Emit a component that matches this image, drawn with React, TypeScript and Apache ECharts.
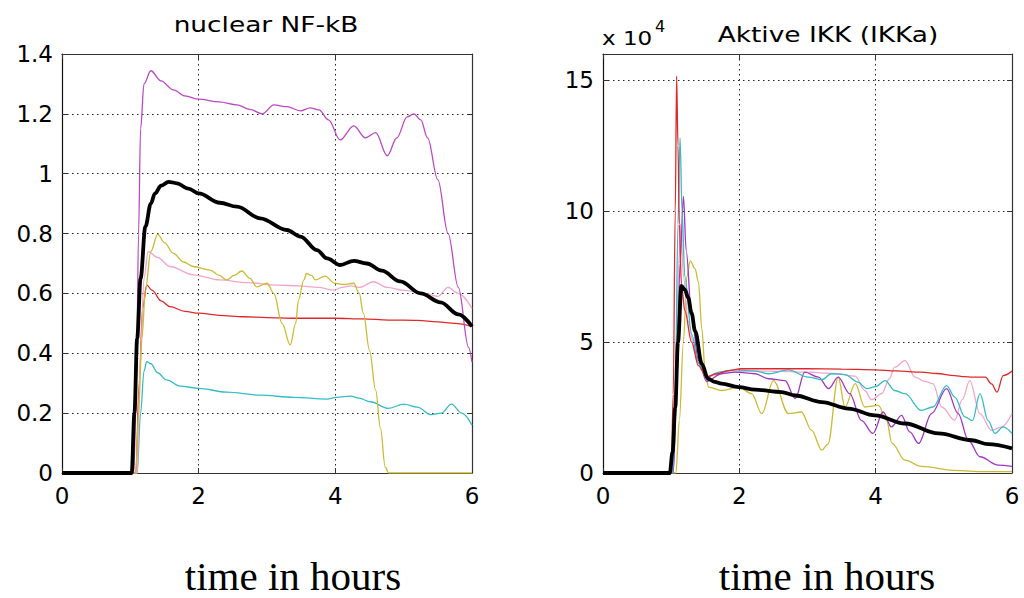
import React, { useEffect, useRef } from 'react';
import * as echarts from 'echarts';

// ---------- Data: nuclear NF-kB (left panel), [time in hours, value] ----------
const nfkbMagenta = [[0,0],[1.05,0],[1.09,0.3],[1.12,0.8],[1.15,1.15],[1.2,1.3],[1.3,1.344],[1.45,1.31],[1.63,1.28],[1.8,1.26],[2.0,1.249],[2.3,1.24],[2.56,1.23],[2.75,1.215],[2.93,1.2],[3.1,1.23],[3.29,1.224],[3.49,1.21],[3.63,1.22],[3.76,1.213],[3.9,1.18],[4.07,1.113],[4.27,1.16],[4.44,1.12],[4.59,1.137],[4.76,1.06],[4.9,1.12],[5.05,1.19],[5.15,1.2],[5.25,1.18],[5.35,1.12],[5.5,0.98],[5.65,0.8],[5.8,0.62],[5.95,0.42],[6.0,0.37]];
const nfkbYellow = [[0,0],[1.08,0],[1.12,0.2],[1.17,0.45],[1.22,0.61],[1.3,0.74],[1.4,0.797],[1.5,0.77],[1.63,0.734],[1.78,0.705],[1.92,0.69],[2.17,0.678],[2.3,0.66],[2.41,0.645],[2.52,0.66],[2.63,0.675],[2.75,0.65],[2.85,0.622],[3.0,0.634],[3.1,0.6],[3.22,0.5],[3.34,0.428],[3.42,0.5],[3.46,0.578],[3.54,0.645],[3.58,0.667],[3.65,0.66],[3.71,0.645],[3.85,0.658],[3.99,0.634],[4.12,0.63],[4.27,0.634],[4.35,0.6],[4.41,0.534],[4.5,0.41],[4.59,0.277],[4.66,0.15],[4.73,0.02],[4.78,0],[6,0]];
const nfkbPink = [[0,0],[1.1,0],[1.15,0.4],[1.2,0.65],[1.26,0.74],[1.4,0.72],[1.58,0.69],[1.92,0.662],[2.31,0.645],[2.71,0.636],[3.14,0.628],[3.46,0.625],[3.75,0.62],[3.98,0.611],[4.1,0.62],[4.22,0.625],[4.35,0.62],[4.56,0.639],[4.76,0.62],[5.0,0.61],[5.3,0.6],[5.5,0.59],[5.65,0.62],[5.8,0.6],[6.0,0.55]];
const nfkbRed = [[0,0],[1.08,0],[1.13,0.3],[1.18,0.55],[1.24,0.628],[1.32,0.61],[1.45,0.575],[1.58,0.556],[1.8,0.54],[2.0,0.534],[2.3,0.527],[2.66,0.522],[3.0,0.519],[3.39,0.517],[4.0,0.517],[4.4,0.515],[4.78,0.511],[5.2,0.51],[5.5,0.505],[5.75,0.5],[6.0,0.49]];
const nfkbCyan = [[0,0],[1.1,0],[1.15,0.2],[1.2,0.34],[1.24,0.372],[1.3,0.365],[1.4,0.335],[1.53,0.311],[1.73,0.29],[2.0,0.283],[2.41,0.27],[2.9,0.26],[3.39,0.253],[3.88,0.247],[4.02,0.253],[4.22,0.257],[4.35,0.25],[4.51,0.238],[4.78,0.216],[5.0,0.23],[5.2,0.22],[5.4,0.195],[5.55,0.2],[5.7,0.23],[5.85,0.2],[6.0,0.16]];
const nfkbMean = [[0,0],[1.02,0],[1.06,0.2],[1.1,0.45],[1.15,0.65],[1.22,0.823],[1.3,0.9],[1.36,0.934],[1.45,0.96],[1.56,0.973],[1.68,0.968],[1.85,0.95],[2.0,0.934],[2.31,0.903],[2.56,0.89],[2.9,0.851],[3.29,0.812],[3.49,0.79],[3.73,0.745],[3.88,0.717],[4.07,0.695],[4.27,0.709],[4.46,0.7],[4.68,0.676],[4.95,0.64],[5.25,0.6],[5.54,0.57],[5.8,0.53],[6.0,0.49]];

// ---------- Data: Aktive IKK (right panel), value in units of 10^4 ----------
const ikkRed = [[0,0],[1.0,0],[1.03,3],[1.06,10],[1.08,15.15],[1.1,12.5],[1.12,9.5],[1.15,7.2],[1.2,6.2],[1.3,5.0],[1.4,4.1],[1.52,3.66],[1.65,3.78],[1.84,3.91],[2.03,3.98],[2.5,3.98],[3.0,3.98],[3.5,3.97],[3.99,3.94],[4.3,3.9],[4.67,3.85],[4.9,3.8],[5.16,3.72],[5.3,3.68],[5.42,3.66],[5.61,3.66],[5.7,3.4],[5.78,3.09],[5.87,3.72],[6.0,3.89]];
const ikkCyan = [[0,0],[1.02,0],[1.06,3],[1.1,9.5],[1.13,12.8],[1.16,10],[1.2,7.5],[1.3,5.3],[1.4,4.2],[1.52,3.66],[1.7,3.85],[1.94,3.94],[2.23,3.89],[2.43,3.79],[2.72,3.94],[3.01,3.66],[3.21,3.56],[3.35,3.79],[3.55,3.76],[3.74,3.47],[3.87,3.22],[4.0,3.3],[4.14,3.53],[4.28,3.15],[4.43,3.03],[4.67,2.39],[4.84,2.52],[5.04,3.34],[5.16,2.9],[5.31,2.14],[5.42,2.0],[5.53,3.03],[5.65,2.0],[5.75,1.51],[5.87,1.76],[6.0,1.51]];
const ikkMagenta = [[0,0],[1.03,0],[1.08,3],[1.13,8],[1.18,10.56],[1.22,8.5],[1.3,6],[1.4,4.3],[1.52,3.5],[1.74,3.79],[1.94,3.85],[2.23,3.79],[2.43,3.6],[2.67,3.53],[2.82,2.84],[2.96,3.85],[3.16,3.66],[3.31,3.22],[3.45,3.66],[3.62,3.03],[3.79,2.01],[3.96,1.51],[4.11,2.33],[4.23,1.76],[4.38,2.2],[4.5,1.57],[4.63,1.13],[4.82,2.27],[5.04,3.22],[5.21,2.27],[5.36,1.25],[5.53,0.62],[5.8,0.3],[6.0,0.25]];
const ikkYellow = [[0,0],[1.07,0],[1.12,2],[1.18,5],[1.23,7.5],[1.28,8.1],[1.35,7.8],[1.4,7.3],[1.45,5.5],[1.5,3.8],[1.55,3.28],[1.74,3.15],[1.99,3.28],[2.18,3.03],[2.33,2.27],[2.5,3.53],[2.72,2.27],[2.91,2.33],[3.06,1.63],[3.21,0.87],[3.3,1.1],[3.45,3.66],[3.55,2.52],[3.7,3.41],[3.84,2.52],[4.04,2.58],[4.16,2.01],[4.24,1.13],[4.43,0.49],[4.67,0.25],[5.15,0.1],[5.6,0.05],[6.0,0.05]];
const ikkPink = [[0,0],[1.03,0],[1.07,3],[1.11,8],[1.14,9.5],[1.18,7.5],[1.25,5.8],[1.35,4.6],[1.45,3.9],[1.55,3.7],[1.8,3.85],[2.2,3.9],[2.6,3.88],[3.0,3.85],[3.4,3.8],[3.7,3.7],[3.84,3.15],[3.94,2.8],[4.09,3.03],[4.2,3.6],[4.28,4.04],[4.43,4.29],[4.58,3.66],[4.72,3.5],[4.84,3.41],[4.97,2.52],[5.16,2.01],[5.27,2.8],[5.38,3.53],[5.53,2.27],[5.7,1.63],[5.85,1.76],[6.0,2.27]];
const ikkMean = [[0,0],[0.98,0],[1.02,0.8],[1.06,2.5],[1.1,5.0],[1.15,7.14],[1.2,7.0],[1.25,6.7],[1.3,6.1],[1.35,5.43],[1.45,4.17],[1.54,3.6],[1.64,3.48],[1.74,3.41],[1.99,3.28],[2.23,3.18],[2.62,3.09],[2.82,2.96],[3.21,2.71],[3.6,2.46],[3.99,2.2],[4.43,1.89],[4.92,1.51],[5.41,1.25],[5.65,1.1],[6.0,0.94]];

const leftTitle = 'nuclear NF-kB';
const rightTitle = 'Aktive IKK (IKKa)';
const xLabel = 'time in hours';

const TICK_FONT = { fontFamily: '"DejaVu Sans"', fontSize: 23, color: '#000' };
const BOX = '#333';
const gridLine = { show: true, lineStyle: { color: '#222', type: [1.5, 3.5], width: 1 } };

function mainX(gridIndex: number) {
  return {
    type: 'value', gridIndex, min: 0, max: 6, interval: 2, position: 'bottom',
    axisLine: { show: true, onZero: false, lineStyle: { color: BOX, width: 1.2 } },
    axisTick: { show: true, inside: true, length: 5, lineStyle: { color: BOX } },
    axisLabel: { ...TICK_FONT, margin: 11 },
    splitLine: gridLine,
  };
}
function mirrorX(gridIndex: number) {
  return {
    type: 'value', gridIndex, min: 0, max: 6, interval: 2, position: 'top',
    axisLine: { show: true, onZero: false, lineStyle: { color: BOX, width: 1.2 } },
    axisTick: { show: true, inside: true, length: 5, lineStyle: { color: BOX } },
    axisLabel: { show: false }, splitLine: { show: false },
  };
}
function mainY(gridIndex: number, max: number, interval: number, showMax: boolean) {
  return {
    type: 'value', gridIndex, min: 0, max, interval, position: 'left',
    axisLine: { show: true, onZero: false, lineStyle: { color: '#111', width: 1.2 } },
    axisTick: { show: true, inside: true, length: 5, lineStyle: { color: BOX } },
    axisLabel: { ...TICK_FONT, margin: 9, showMaxLabel: showMax },
    splitLine: gridLine,
  };
}
function mirrorY(gridIndex: number, max: number, interval: number) {
  return {
    type: 'value', gridIndex, min: 0, max, interval, position: 'right',
    axisLine: { show: true, onZero: false, lineStyle: { color: BOX, width: 1.2 } },
    axisTick: { show: true, inside: true, length: 5, lineStyle: { color: BOX } },
    axisLabel: { show: false }, splitLine: { show: false },
  };
}

function line(data: number[][], color: string, width: number, xi: number, yi: number, z = 3) {
  return {
    type: 'line', data, xAxisIndex: xi, yAxisIndex: yi, showSymbol: false, symbol: 'none',
    smooth: 0.35, smoothMonotone: 'x', silent: true, z,
    lineStyle: { color, width },
  };
}

const C = {
  magL: '#bb48c4', magR: '#a236c2', yellow: '#cbbb32', pink: '#f2a6cc', red: '#e0282a', cyan: '#34bcc8', black: '#000',
};

export default function App() {
  const ref = useRef<HTMLDivElement>(null);
  useEffect(() => {
    const chart = echarts.init(ref.current as HTMLDivElement, null, { renderer: 'svg' });
    const option: any = {
      animation: false,
      backgroundColor: '#fff',
      grid: [
        { left: 62, top: 54, width: 410, height: 419 },
        { left: 603, top: 54, width: 409, height: 419 },
      ],
      xAxis: [mainX(0), mirrorX(0), mainX(1), mirrorX(1)],
      yAxis: [mainY(0, 1.4, 0.2, true), mirrorY(0, 1.4, 0.2), mainY(1, 16, 5, false), mirrorY(1, 16, 5)],
      series: [
        line(nfkbCyan, C.cyan, 1.3, 0, 0),
        line(nfkbRed, C.red, 1.3, 0, 0),
        line(nfkbPink, C.pink, 1.3, 0, 0),
        line(nfkbYellow, C.yellow, 1.3, 0, 0),
        line(nfkbMagenta, C.magL, 1.3, 0, 0),
        line(nfkbMean, C.black, 3.8, 0, 0, 5),
        line(ikkYellow, C.yellow, 1.3, 2, 2),
        line(ikkPink, C.pink, 1.3, 2, 2),
        line(ikkMagenta, C.magR, 1.3, 2, 2),
        line(ikkCyan, C.cyan, 1.3, 2, 2),
        line(ikkRed, C.red, 1.3, 2, 2),
        line(ikkMean, C.black, 3.8, 2, 2, 5),
      ],
      graphic: [
        { type: 'text', x: 266, y: 24.5, scaleX: 1.2, silent: true,
          style: { text: leftTitle, fontFamily: '"DejaVu Sans"', fontSize: 22, fill: '#000', align: 'center', verticalAlign: 'middle' } },
        { type: 'text', x: 828, y: 34.5, scaleX: 1.2, silent: true,
          style: { text: rightTitle, fontFamily: '"DejaVu Sans"', fontSize: 22, fill: '#000', align: 'center', verticalAlign: 'middle' } },
        { type: 'text', x: 602, y: 38, scaleX: 1.15, silent: true,
          style: { text: 'x 10', fontFamily: '"DejaVu Sans"', fontSize: 20, fill: '#000', align: 'left', verticalAlign: 'middle' } },
        { type: 'text', x: 655, y: 26, silent: true,
          style: { text: '4', fontFamily: '"DejaVu Sans"', fontSize: 16, fill: '#000', align: 'left', verticalAlign: 'middle' } },
        { type: 'text', x: 293, y: 575.5, silent: true,
          style: { text: xLabel, fontFamily: '"Liberation Serif"', fontSize: 41, fill: '#000', align: 'center', verticalAlign: 'middle' } },
        { type: 'text', x: 827, y: 575.5, silent: true,
          style: { text: xLabel, fontFamily: '"Liberation Serif"', fontSize: 41, fill: '#000', align: 'center', verticalAlign: 'middle' } },
      ],
    };
    chart.setOption(option);
    return () => chart.dispose();
  }, []);
  return <div ref={ref} style={{ position: 'absolute', left: 0, top: 0, width: 1024, height: 598, background: '#fff' }} />;
}
